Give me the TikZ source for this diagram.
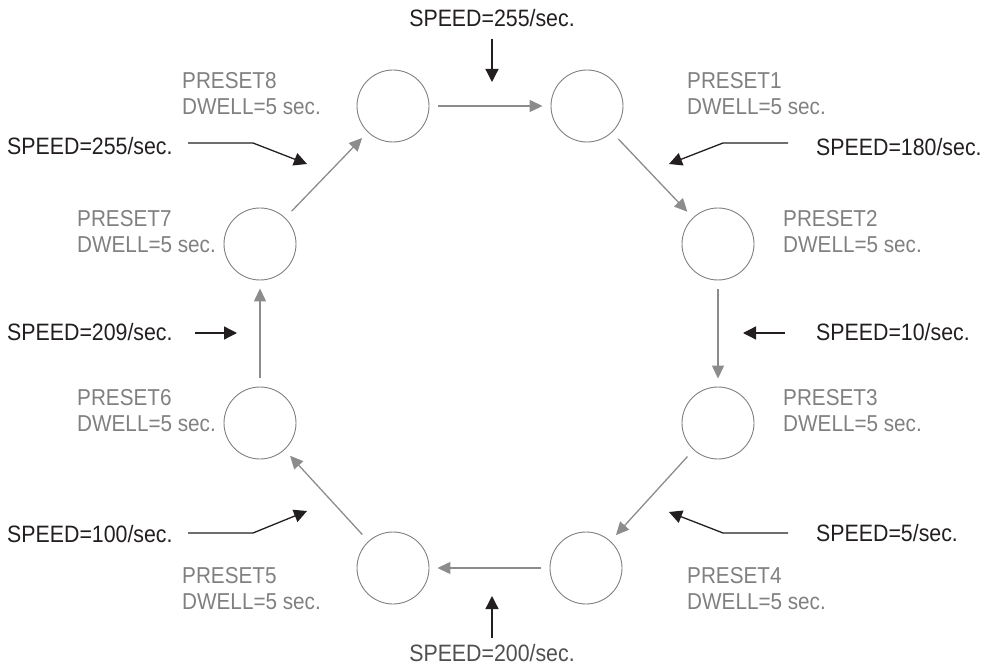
\documentclass[tikz,border=0pt]{standalone}
\usepackage{fontspec}
\setmainfont[FakeStretch=0.9]{Liberation Sans}
\usetikzlibrary{arrows.meta}
\definecolor{inkgray}{HTML}{808080}
\definecolor{linegray}{HTML}{8C8C8C}
\definecolor{ink}{HTML}{231F20}
\definecolor{inkdim}{HTML}{505050}

\begin{document}
\begin{tikzpicture}[x=1pt,y=-1pt,
  preset/.style={circle,draw=inkgray,line width=0.9pt,minimum size=72pt,inner sep=0pt},
  flow/.style={draw=linegray,line width=1.3pt,-{Triangle[length=13pt,width=12pt]},shorten <=9pt,shorten >=8pt},
  note/.style={draw=ink,line width=1.3pt,-{Triangle[length=13pt,width=13pt]}},
  lbl/.style={text=inkgray,font=\fontsize{23}{26}\selectfont,align=left,inner sep=0pt,anchor=north west},
  spd/.style={text=ink,font=\fontsize{23.7}{28}\selectfont,inner sep=0pt}]
\useasboundingbox (0,0) rectangle (988,668);

% preset positions
\node[preset] (p8) at (393,106) {};
\node[preset] (p1) at (587,106) {};
\node[preset] (p2) at (718,244) {};
\node[preset] (p3) at (718,423) {};
\node[preset] (p4) at (586,568) {};
\node[preset] (p5) at (393,568) {};
\node[preset] (p6) at (260,423) {};
\node[preset] (p7) at (260,244) {};

% sequence of presets
\draw[flow] (p8) -- (p1);
\draw[flow] (p1) -- (p2);
\draw[flow] (p2) -- (p3);
\draw[flow] (p3) -- (p4);
\draw[flow] (p4) -- (p5);
\draw[flow] (p5) -- (p6);
\draw[flow] (p6) -- (p7);
\draw[flow] (p7) -- (p8);

% preset labels
\node[lbl] (l8) at (182,72) {PRESET8\\DWELL=5 sec.};
\node[lbl] (l1) at (687,72) {PRESET1\\DWELL=5 sec.};
\node[lbl] (l2) at (783,210) {PRESET2\\DWELL=5 sec.};
\node[lbl] (l3) at (783,389) {PRESET3\\DWELL=5 sec.};
\node[lbl] (l4) at (687,567) {PRESET4\\DWELL=5 sec.};
\node[lbl] (l5) at (182,567) {PRESET5\\DWELL=5 sec.};
\node[lbl] (l6) at (77,389) {PRESET6\\DWELL=5 sec.};
\node[lbl] (l7) at (77,210) {PRESET7\\DWELL=5 sec.};

% speed annotations
\node[spd,anchor=base] (s81) at (492,27) {SPEED=255/sec.};
\node[spd,anchor=base west] (s12) at (816,156) {SPEED=180/sec.};
\node[spd,anchor=base west] (s23) at (816,341) {SPEED=10/sec.};
\node[spd,anchor=base west] (s34) at (816,541) {SPEED=5/sec.};
\node[spd,anchor=base,text=inkdim] (s45) at (492,661) {SPEED=200/sec.};
\node[spd,anchor=base west] (s56) at (7,542) {SPEED=100/sec.};
\node[spd,anchor=base west] (s67) at (7,341) {SPEED=209/sec.};
\node[spd,anchor=base west] (s78) at (7,155) {SPEED=255/sec.};

% annotation leaders
\coordinate (t81a) at (492,39);  \coordinate (t81b) at (492,82);
\coordinate (t12a) at (788,143); \coordinate (t12k) at (723,143); \coordinate (t12b) at (669,164);
\coordinate (t23a) at (785,333); \coordinate (t23b) at (743,333);
\coordinate (t34a) at (788,533); \coordinate (t34k) at (723,533); \coordinate (t34b) at (669,512);
\coordinate (t45a) at (492,638); \coordinate (t45b) at (492,596);
\coordinate (t56a) at (188,533); \coordinate (t56k) at (253,533); \coordinate (t56b) at (307,511);
\coordinate (t67a) at (195,333); \coordinate (t67b) at (237,333);
\coordinate (t78a) at (188,143); \coordinate (t78k) at (253,143); \coordinate (t78b) at (307,164);

\draw[note] (t81a) -- (t81b);
\draw[note] (t12a) -- (t12k) -- (t12b);
\draw[note] (t23a) -- (t23b);
\draw[note] (t34a) -- (t34k) -- (t34b);
\draw[note] (t45a) -- (t45b);
\draw[note] (t56a) -- (t56k) -- (t56b);
\draw[note] (t67a) -- (t67b);
\draw[note] (t78a) -- (t78k) -- (t78b);
\end{tikzpicture}
\end{document}
